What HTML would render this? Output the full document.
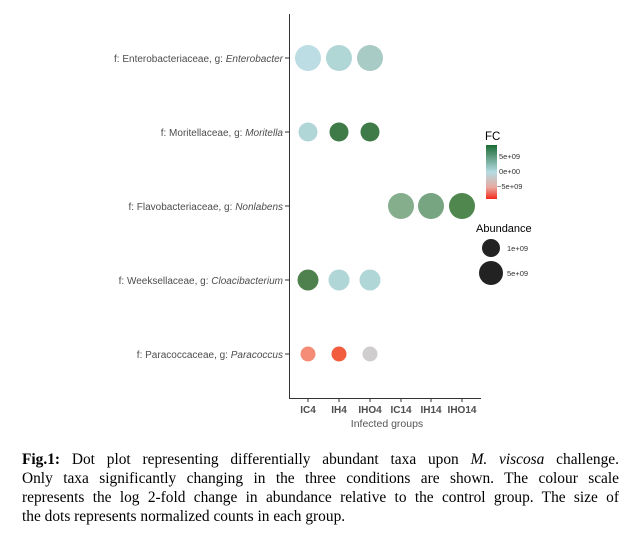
<!DOCTYPE html>
<html><head><meta charset="utf-8"><style>
body{margin:0;width:640px;height:544px;background:#fff;overflow:hidden;position:relative}
svg{position:absolute;left:0;top:0}
.cap{position:absolute;left:22px;top:450px;width:597px;font:15.4px/19px "Liberation Serif",serif;color:#000}
.cap div{text-align:justify;text-align-last:justify;white-space:nowrap}
.cap div.l{text-align-last:left}
</style></head><body>
<svg width="640" height="544" font-family="Liberation Sans, sans-serif">
<line x1="289.5" y1="14" x2="289.5" y2="398" stroke="#333" stroke-width="1"/>
<line x1="289" y1="398.5" x2="481" y2="398.5" stroke="#333" stroke-width="1"/>
<g stroke="#333">
<line x1="285" y1="58" x2="289" y2="58"/><line x1="285" y1="132" x2="289" y2="132"/><line x1="285" y1="206" x2="289" y2="206"/><line x1="285" y1="280" x2="289" y2="280"/><line x1="285" y1="354" x2="289" y2="354"/>
<line x1="308" y1="399" x2="308" y2="402"/><line x1="339" y1="399" x2="339" y2="402"/><line x1="370" y1="399" x2="370" y2="402"/><line x1="401" y1="399" x2="401" y2="402"/><line x1="431" y1="399" x2="431" y2="402"/><line x1="462" y1="399" x2="462" y2="402"/>
</g>
<g font-size="10" fill="#4d4d4d" text-anchor="end">
<text x="283" y="62">f: Enterobacteriaceae, g: <tspan font-style="italic">Enterobacter</tspan></text>
<text x="283" y="136">f: Moritellaceae, g: <tspan font-style="italic">Moritella</tspan></text>
<text x="283" y="210">f: Flavobacteriaceae, g: <tspan font-style="italic">Nonlabens</tspan></text>
<text x="283" y="284">f: Weeksellaceae, g: <tspan font-style="italic">Cloacibacterium</tspan></text>
<text x="283" y="358">f: Paracoccaceae, g: <tspan font-style="italic">Paracoccus</tspan></text>
</g>
<g font-size="10" font-weight="bold" fill="#4d4d4d" text-anchor="middle">
<text x="308" y="413">IC4</text><text x="339" y="413">IH4</text><text x="370" y="413">IHO4</text><text x="401" y="413">IC14</text><text x="431" y="413">IH14</text><text x="462" y="413">IHO14</text>
</g>
<text x="387" y="427" font-size="10.5" fill="#555" text-anchor="middle">Infected groups</text>
<circle cx="308" cy="58" r="13" fill="#bcdde3"/>
<circle cx="339" cy="58" r="13" fill="#b0d6d6"/>
<circle cx="370" cy="58" r="13" fill="#a8cbc5"/>
<circle cx="308" cy="132" r="9.5" fill="#b1d6d7"/>
<circle cx="339" cy="132" r="9.5" fill="#3f7a49"/>
<circle cx="370" cy="132" r="9.5" fill="#3f7a49"/>
<circle cx="401" cy="206" r="13" fill="#85ae8d"/>
<circle cx="431" cy="206" r="13" fill="#78a581"/>
<circle cx="462" cy="206" r="13" fill="#4f874f"/>
<circle cx="308" cy="280" r="10.5" fill="#4f814e"/>
<circle cx="339" cy="280" r="10.5" fill="#b1d6d8"/>
<circle cx="370" cy="280" r="10.5" fill="#b1d6d8"/>
<circle cx="308" cy="354" r="7.5" fill="#f48c77"/>
<circle cx="339" cy="354" r="7.5" fill="#f25c3f"/>
<circle cx="370" cy="354" r="7.5" fill="#cfcdcd"/>
<text x="485" y="140" font-size="11.5" fill="#000">FC</text>
<defs><linearGradient id="g" x1="0" y1="0" x2="0" y2="1">
<stop offset="0" stop-color="#1b6b34"/><stop offset="0.5" stop-color="#b4dbe3"/><stop offset="0.78" stop-color="#e8a9a0"/><stop offset="1" stop-color="#f52a1a"/></linearGradient></defs>
<rect x="486" y="145" width="11" height="54" fill="url(#g)"/>
<g font-size="7.5" fill="#333">
<text x="499" y="159">5e+09</text><text x="499" y="174">0e+00</text><text x="497" y="189">−5e+09</text>
</g>
<text x="476" y="232" font-size="11" fill="#000">Abundance</text>
<circle cx="491" cy="248" r="9" fill="#222"/>
<circle cx="491" cy="273" r="12" fill="#222"/>
<g font-size="7.5" fill="#333"><text x="507" y="251">1e+09</text><text x="507" y="276">5e+09</text></g>
</svg>
<div class="cap">
<div><b>Fig.1:</b> Dot plot representing differentially abundant taxa upon <i>M. viscosa</i> challenge.</div>
<div>Only taxa significantly changing in the three conditions are shown. The colour scale</div>
<div>represents the log 2-fold change in abundance relative to the control group. The size of</div>
<div class="l">the dots represents normalized counts in each group.</div>
</div>
</body></html>
